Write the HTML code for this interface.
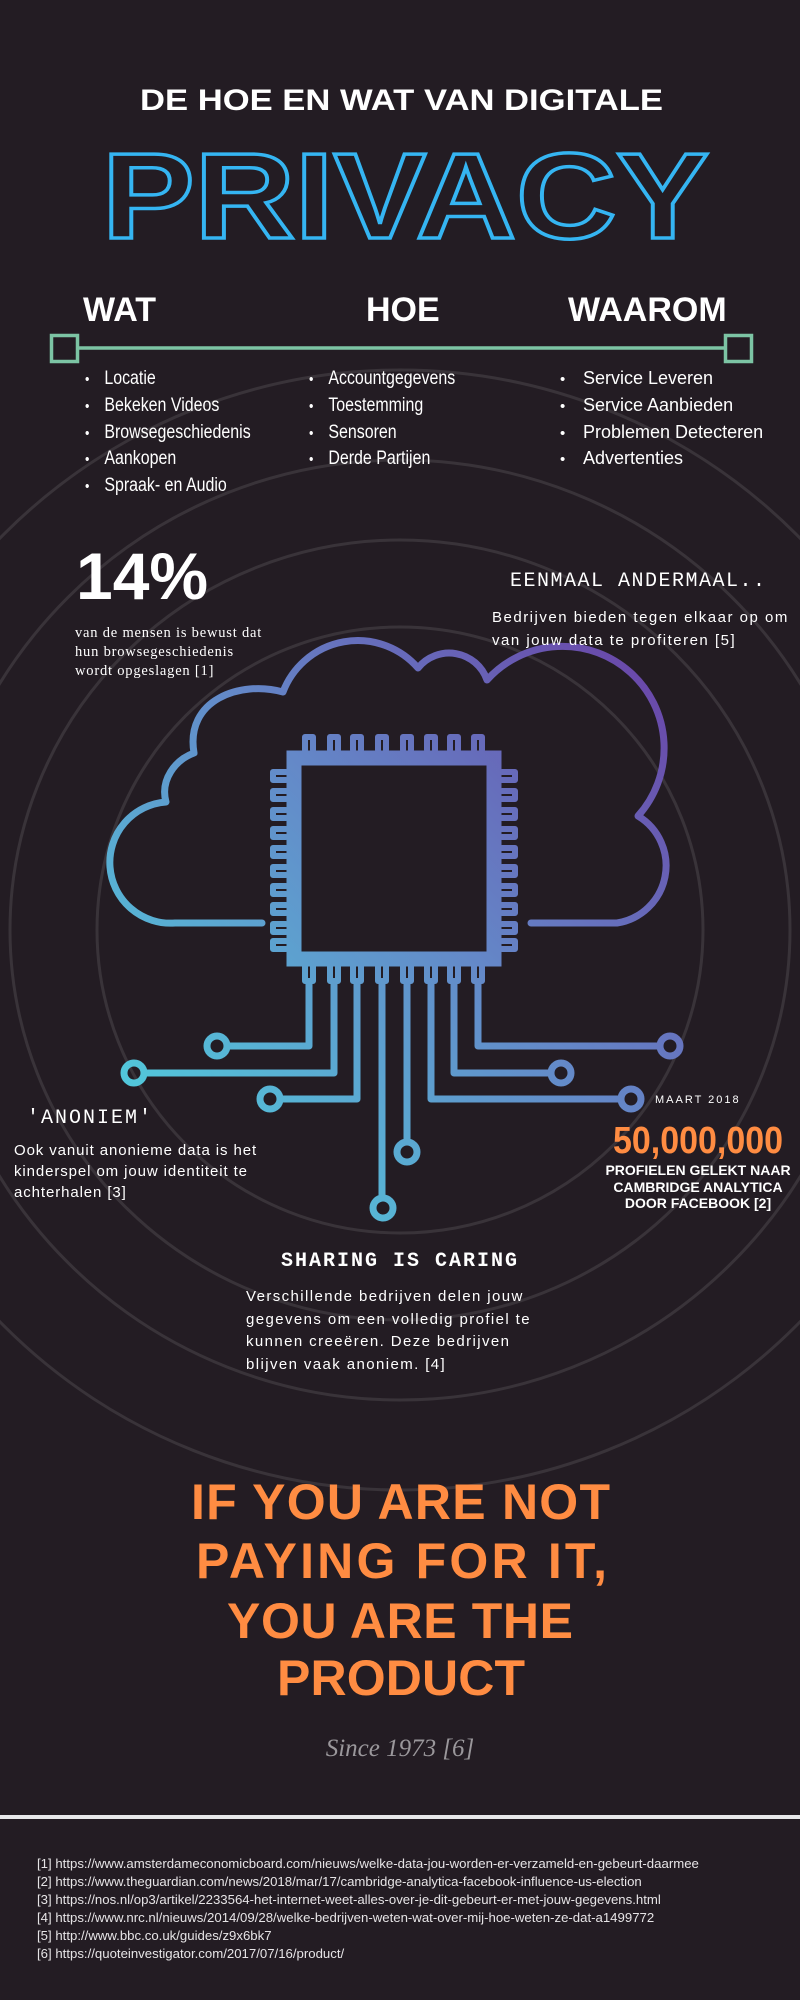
<!DOCTYPE html>
<html><head><meta charset="utf-8"><style>
*{margin:0;padding:0;box-sizing:border-box}
body{width:800px;height:2000px;background:#231c23;position:relative;overflow:hidden;font-family:"Liberation Sans",sans-serif;color:#fff}
.a{position:absolute;white-space:nowrap}
.mono{font-family:"Liberation Mono",monospace}
.li{position:absolute;font-size:19px;line-height:25.8px;color:#fff;transform-origin:0 0}
.li div::before{content:"•";display:inline-block;width:23px;font-size:15px}
</style></head><body>
<svg class="a" style="left:0;top:0" width="800" height="2000">
<defs><linearGradient id="g" gradientUnits="userSpaceOnUse" x1="150" y1="1100" x2="650" y2="650"><stop offset="0" stop-color="#52c6da"/><stop offset="0.5" stop-color="#6488c8"/><stop offset="1" stop-color="#6a45a8"/></linearGradient></defs>
<g fill="none" stroke="#393339" stroke-width="3">
<circle cx="400" cy="930" r="303"/><circle cx="400" cy="930" r="390"/><circle cx="400" cy="930" r="470"/><circle cx="400" cy="930" r="560"/>
</g>
<text x="140" y="110" font-family="Liberation Sans" font-weight="bold" font-size="30" fill="#fff" textLength="523" lengthAdjust="spacingAndGlyphs">DE HOE EN WAT VAN DIGITALE</text>
<text x="102" y="238" font-family="Liberation Sans" font-weight="bold" font-size="122" fill="none" stroke="#35b5f2" stroke-width="3.5" textLength="607" lengthAdjust="spacingAndGlyphs">PRIVACY</text>
<line x1="78" y1="348" x2="725" y2="348" stroke="#7cc4a4" stroke-width="3.5"/>
<rect x="51.5" y="335.5" width="26" height="26" fill="none" stroke="#7cc4a4" stroke-width="3.5"/>
<rect x="725.5" y="335.5" width="26" height="26" fill="none" stroke="#7cc4a4" stroke-width="3.5"/>
<g fill="none" stroke="url(#g)" stroke-width="7" stroke-linecap="round" stroke-linejoin="round">
<path d="M262,923 H175 A60,60 0 0 1 166,802 C160,780 175,760 194,753 C185,700 240,680 283,692 A80,80 0 0 1 418,668 A40,40 0 0 1 487,680 A95,95 0 0 1 638,816 A58,58 0 0 1 617,923 H531"/>
<rect x="294" y="758" width="200" height="201" stroke-width="15" stroke-linejoin="miter"/>
<g stroke-width="6">
<path d="M305,750 V737 H313 V750 M330,750 V737 H338 V750 M353,750 V737 H361 V750 M378,750 V737 H386 V750 M403,750 V737 H411 V750 M427,750 V737 H435 V750 M450,750 V737 H458 V750 M474,750 V737 H482 V750"/>
<path d="M305,966 V981 H313 V966 M330,966 V981 H338 V966 M353,966 V981 H361 V966 M378,966 V981 H386 V966 M403,966 V981 H411 V966 M427,966 V981 H435 V966 M450,966 V981 H458 V966 M474,966 V981 H482 V966"/>
<path d="M286,772 H273 V780 H286 M286,791 H273 V799 H286 M286,810 H273 V818 H286 M286,829 H273 V837 H286 M286,848 H273 V856 H286 M286,867 H273 V875 H286 M286,886 H273 V894 H286 M286,905 H273 V913 H286 M286,924 H273 V932 H286 M286,941 H273 V949 H286"/>
<path d="M502,772 H515 V780 H502 M502,791 H515 V799 H502 M502,810 H515 V818 H502 M502,829 H515 V837 H502 M502,848 H515 V856 H502 M502,867 H515 V875 H502 M502,886 H515 V894 H502 M502,905 H515 V913 H502 M502,924 H515 V932 H502 M502,941 H515 V949 H502"/>
</g>
<path d="M309,983 V1046 H227 M334,983 V1073 H144 M357,983 V1099 H280 M382,983 V1198 M407,983 V1142 M431,983 V1099 H621 M454,983 V1073 H551 M478,983 V1046 H660"/>
<circle cx="217" cy="1046" r="10"/><circle cx="134" cy="1073" r="10"/><circle cx="270" cy="1099" r="10"/><circle cx="383" cy="1208" r="10"/><circle cx="407" cy="1152" r="10"/><circle cx="631" cy="1099" r="10"/><circle cx="561" cy="1073" r="10"/><circle cx="670" cy="1046" r="10"/>
</g>
<text x="613" y="1153" font-family="Liberation Sans" font-weight="bold" font-size="38" fill="#ff8c42" textLength="170" lengthAdjust="spacingAndGlyphs">50,000,000</text>
<g font-family="Liberation Sans" font-weight="bold" font-size="50" fill="#ff8c42" lengthAdjust="spacingAndGlyphs">
<text x="191" y="1519" textLength="419">IF YOU ARE NOT</text>
<text x="196" y="1578" textLength="411">PAYING FOR IT,</text>
<text x="227" y="1638" textLength="346">YOU ARE THE</text>
<text x="277" y="1695" textLength="248">PRODUCT</text>
</g>
<line x1="0" y1="1817" x2="800" y2="1817" stroke="#e8e8ea" stroke-width="4"/>
</svg>
<div class="a" style="left:83px;top:291px;font-size:34px;font-weight:bold">WAT</div>
<div class="a" style="left:366px;top:291px;font-size:34px;font-weight:bold">HOE</div>
<div class="a" style="left:568px;top:291px;font-size:34px;font-weight:bold">WAAROM</div>
<div class="li" style="left:85px;top:366px;transform:scaleX(0.84)"><div>Locatie</div><div>Bekeken Videos</div><div>Browsegeschiedenis</div><div>Aankopen</div><div>Spraak- en Audio</div></div>
<div class="li" style="left:309px;top:366px;transform:scaleX(0.84)"><div>Accountgegevens</div><div>Toestemming</div><div>Sensoren</div><div>Derde Partijen</div></div>
<div class="li" style="left:560px;top:366px;font-size:18px"><div>Service Leveren</div><div>Service Aanbieden</div><div>Problemen Detecteren</div><div>Advertenties</div></div>
<div class="a" style="left:76px;top:538px;font-size:66px;font-weight:bold">14%</div>
<div class="a" style="left:75px;top:624px;font-family:'Liberation Serif',serif;font-size:14.5px;line-height:19px;letter-spacing:.8px">van de mensen is bewust dat<br>hun browsegeschiedenis<br>wordt opgeslagen [1]</div>
<div class="a mono" style="left:510px;top:570px;font-size:20px;letter-spacing:1.5px">EENMAAL ANDERMAAL..</div>
<div class="a" style="left:492px;top:606px;font-size:15px;line-height:23px;letter-spacing:1.5px">Bedrijven bieden tegen elkaar op om<br>van jouw data te profiteren [5]</div>
<div class="a mono" style="left:27px;top:1107px;font-size:20px;letter-spacing:2px">'ANONIEM'</div>
<div class="a" style="left:14px;top:1140px;font-size:15px;line-height:21px;letter-spacing:.9px">Ook vanuit anonieme data is het<br>kinderspel om jouw identiteit te<br>achterhalen [3]</div>
<div class="a" style="left:655px;top:1094px;font-size:11px;letter-spacing:2px">MAART 2018</div>
<div class="a" style="left:598px;top:1162px;width:200px;text-align:center;font-size:14px;font-weight:bold;line-height:16.5px">PROFIELEN GELEKT NAAR<br>CAMBRIDGE ANALYTICA<br>DOOR FACEBOOK [2]</div>
<div class="a mono" style="left:0;width:800px;text-align:center;top:1250px;font-size:20px;font-weight:bold;letter-spacing:2px">SHARING IS CARING</div>
<div class="a" style="left:246px;top:1286px;font-size:15px;line-height:22.7px;letter-spacing:1.4px">Verschillende bedrijven delen jouw<br>gegevens om een volledig profiel te<br>kunnen creeëren. Deze bedrijven<br>blijven vaak anoniem. [4]</div>
<div class="a" style="left:0;width:800px;text-align:center;top:1735px;font-family:'Liberation Serif',serif;font-style:italic;font-size:25px;color:#9a979b">Since 1973 [6]</div>
<div class="a" style="left:37px;top:1855px;font-size:13.2px;line-height:18px;color:#e6e4e6">[1] https://www.amsterdameconomicboard.com/nieuws/welke-data-jou-worden-er-verzameld-en-gebeurt-daarmee<br>[2] https://www.theguardian.com/news/2018/mar/17/cambridge-analytica-facebook-influence-us-election<br>[3] https://nos.nl/op3/artikel/2233564-het-internet-weet-alles-over-je-dit-gebeurt-er-met-jouw-gegevens.html<br>[4] https://www.nrc.nl/nieuws/2014/09/28/welke-bedrijven-weten-wat-over-mij-hoe-weten-ze-dat-a1499772<br>[5] http://www.bbc.co.uk/guides/z9x6bk7<br>[6] https://quoteinvestigator.com/2017/07/16/product/</div>
</body></html>
